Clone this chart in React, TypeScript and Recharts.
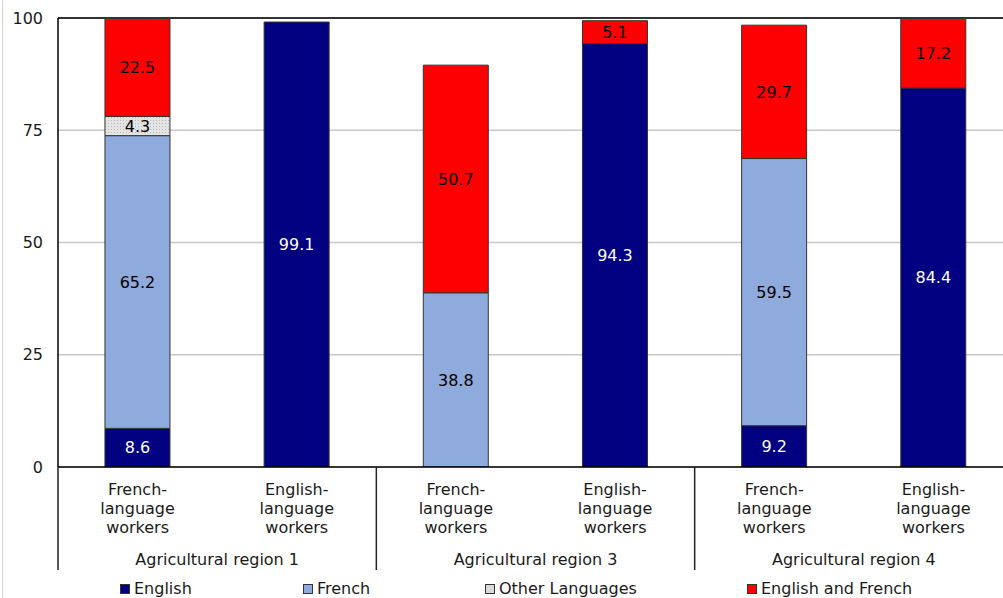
import * as React from "react";
import {
  BarChart,
  Bar,
  XAxis,
  YAxis,
  CartesianGrid,
  ReferenceLine,
  LabelList,
  Legend,
} from "recharts";

const categories = [
  "French-language workers",
  "English-language workers",
  "French-language workers",
  "English-language workers",
  "French-language workers",
  "English-language workers",
];
const regions = ["Agricultural region 1", "Agricultural region 3", "Agricultural region 4"];

const english = [8.6, 99.1, null, 94.3, 9.2, 84.4];
const french = [65.2, null, 38.8, null, 59.5, null];
const otherLanguages = [4.3, null, null, null, null, null];
const englishAndFrench = [22.5, null, 50.7, 5.1, 29.7, 17.2];

const yTicks = [0, 25, 50, 75, 100];

const SERIES = [
  { key: "english", name: "English", fill: "#000080", text: "#ffffff", values: english },
  { key: "french", name: "French", fill: "#8faadc", text: "#000000", values: french },
  { key: "other", name: "Other Languages", fill: "url(#dots)", swatch: "#d9d9d9", text: "#000000", values: otherLanguages },
  { key: "both", name: "English and French", fill: "#ff0000", text: "#000000", values: englishAndFrench },
];

const data = categories.map((c, i) => {
  const row: any = { category: c, region: regions[Math.floor(i / 2)] };
  SERIES.forEach((s) => (row[s.key] = s.values[i]));
  return row;
});

const FONT = "'DejaVu Sans', Verdana, sans-serif";
// plot runs past the right edge of the frame, as in the exported chart
const CHART_W = 1013;
const CHART_H = 598;
const BAND = (CHART_W - 58) / categories.length;
const LEGEND_X = [120, 303, 485, 747];

function splitLabel(label: string) {
  return label.replace("-", "-\n").split(/\n| /);
}

function CategoryTick(props: any) {
  const { x, y, payload, index } = props;
  const half = payload && payload.offset ? payload.offset : BAND / 2;
  const lines = splitLabel(String(payload.value));
  return (
    <g>
      <text x={x} y={y} textAnchor="middle" fontSize={16} fill="#1a1a1a" fontFamily={FONT}>
        {lines.map((l, i) => (
          <tspan key={i} x={x} dy={i === 0 ? 28 : 19}>
            {l}
          </tspan>
        ))}
      </text>
      {index % 2 === 0 && (
        <>
          <line x1={x - half} x2={x - half} y1={y} y2={y + 103} stroke="#222" strokeWidth={1.5} />
          <text x={x + half} y={y + 98} textAnchor="middle" fontSize={16} fill="#1a1a1a" fontFamily={FONT}>
            {regions[index / 2]}
          </text>
        </>
      )}
      {index === categories.length - 1 && (
        <line x1={x + half} x2={x + half} y1={y} y2={y + 103} stroke="#222" strokeWidth={1.5} />
      )}
    </g>
  );
}

function LegendContent() {
  return (
    <div style={{ position: "relative", height: 28, fontFamily: FONT, fontSize: 16, color: "#1a1a1a" }}>
      {SERIES.map((s, i) => (
        <div
          key={s.key}
          style={{
            position: "absolute",
            left: LEGEND_X[i],
            top: 11,
            height: 16,
            display: "flex",
            alignItems: "center",
            whiteSpace: "nowrap",
          }}
        >
          <span
            style={{
              display: "inline-block",
              width: 8,
              height: 8,
              background: s.swatch || s.fill,
              border: "1px solid #333",
              marginRight: 4,
            }}
          />
          <span style={{ lineHeight: "16px" }}>{s.name}</span>
        </div>
      ))}
    </div>
  );
}

const fmt = (v: any) => (v === null || v === undefined || v === 0 ? "" : Number(v).toFixed(1));

export default function App() {
  return (
    <div
      style={{
        position: "absolute",
        left: 0,
        top: 0,
        width: 1003,
        height: CHART_H,
        overflow: "hidden",
        background: "#fff",
        fontFamily: FONT,
      }}
    >
      <div style={{ position: "absolute", left: 2, top: 0, width: 1, height: CHART_H, background: "#d4d4d4" }} />
      <BarChart
        width={CHART_W}
        height={CHART_H}
        data={data}
        margin={{ top: 18, right: 0, left: 0, bottom: 0 }}
        barCategoryGap="29.5%"
      >
        <defs>
          <pattern id="dots" width="3" height="3" patternUnits="userSpaceOnUse">
            <rect width="3" height="3" fill="#e4e4e4" />
            <rect width="1" height="1" fill="#b8b8b8" />
          </pattern>
        </defs>
        <CartesianGrid vertical={false} stroke="#c8c8c8" strokeWidth={1.5} />
        <XAxis
          dataKey="category"
          interval={0}
          height={103}
          tickLine={false}
          tickSize={0}
          tickMargin={0}
          axisLine={{ stroke: "#000", strokeWidth: 1.5 }}
          tick={<CategoryTick />}
        />
        <YAxis
          width={58}
          domain={[0, 100]}
          ticks={yTicks}
          allowDataOverflow
          tickLine={false}
          tickSize={0}
          tickMargin={15}
          axisLine={{ stroke: "#000", strokeWidth: 1.5 }}
          tick={{ fontSize: 16, fill: "#1a1a1a", fontFamily: FONT }}
        />
        <ReferenceLine y={100} stroke="#333" strokeWidth={2} />
        {SERIES.map((s) => (
          <Bar
            key={s.key}
            dataKey={s.key}
            name={s.name}
            stackId="a"
            fill={s.fill}
            stroke="#333"
            strokeWidth={1}
            isAnimationActive={false}
          >
            <LabelList
              dataKey={s.key}
              position="center"
              formatter={fmt}
              fill={s.text}
              fontSize={16}
              fontFamily={FONT}
            />
          </Bar>
        ))}
        <Legend verticalAlign="bottom" height={28} content={<LegendContent />} />
      </BarChart>
    </div>
  );
}
